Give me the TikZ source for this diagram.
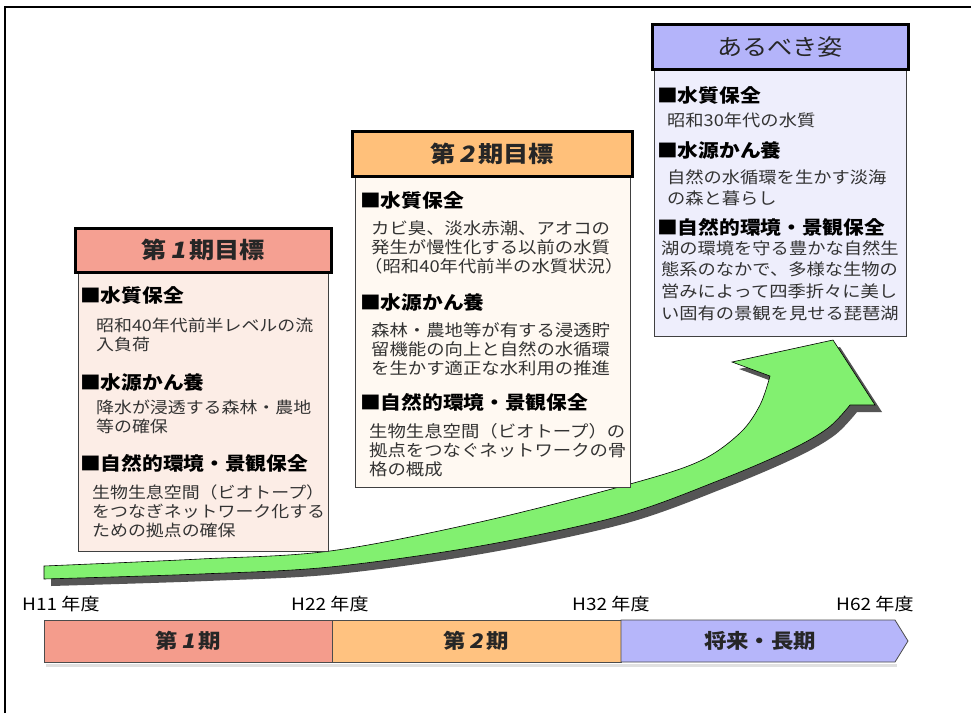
\documentclass[tikz,border=0pt]{standalone}
\usepackage{fontspec}
\newfontfamily\jp[FakeStretch=1.12]{Noto Sans CJK JP}
\definecolor{arrowgreen}{RGB}{130,240,112}
\definecolor{shadowgrey}{RGB}{85,85,85}
\definecolor{salmonA}{RGB}{245,160,146}
\definecolor{salmonB}{RGB}{252,237,230}
\definecolor{orangeA}{RGB}{255,192,122}
\definecolor{orangeB}{RGB}{255,249,242}
\definecolor{violetA}{RGB}{180,180,250}
\definecolor{violetB}{RGB}{238,238,252}
\definecolor{barA}{RGB}{244,156,140}
\definecolor{barB}{RGB}{255,194,128}
\definecolor{barC}{RGB}{182,182,250}
\tikzset{
  titlebox/.style={draw=black, line width=3pt, inner sep=0pt, font=\jp\bfseries\fontsize{22.5}{24}\selectfont, text=black!85},
  contentbox/.style={draw=black!75, line width=1pt, inner sep=0pt},
  hdr/.style={anchor=west, inner sep=0pt, font=\jp\bfseries\fontsize{18.5}{20}\selectfont, text=black},
  body/.style={anchor=west, inner sep=0pt, font=\jp\fontsize{16.0}{18}\selectfont, text=black!80},
  bodyw/.style={body, font=\jp\fontsize{16.4}{18}\selectfont},
  bodym/.style={body, font=\jp\fontsize{16.3}{18}\selectfont},
  yearlbl/.style={anchor=west, inner sep=0pt, font=\jp\fontsize{17}{18}\selectfont, text=black},
  barlbl/.style={inner sep=0pt, font=\jp\bfseries\fontsize{20}{22}\selectfont, text=black!85},
  barline/.style={draw=black!70, line width=0.8pt},
}
\newcommand{\slone}[1]{{\addfontfeature{FakeSlant=0.2}#1}}
\begin{document}
\begin{tikzpicture}[x=1pt,y=-1pt]
\useasboundingbox (0,0) rectangle (971,713);
\fill[white] (0,0) rectangle (971,713);
% frame
\draw[line width=1.3pt] (5,713) -- (5,7) -- (971,7);

% green arrow: shadow then body
\def\arrowpath{
  plot[smooth, tension=0.55] coordinates {(44,566) (200,559) (330,551) (480,522) (630,484) (700,461) (740,433) (760,405) (770,376)}
  -- (732,362) -- (833,340) -- (875,405) -- (850,405)
  -- plot[smooth, tension=0.55] coordinates {(850,405) (828,428) (790,450) (720,480) (620,516) (480,546) (330,567) (200,574) (44,579)}
  -- cycle}
\fill[shadowgrey, shift={(7,7)}] \arrowpath;
\filldraw[fill=arrowgreen, draw=black, line width=0.6pt] \arrowpath;

% box 1
\node[contentbox, fill=salmonB, minimum width=250pt, minimum height=279pt] (c1) at (203,411.5) {};
\node[titlebox, fill=salmonA, minimum width=256pt, minimum height=44pt] (t1) at (203,250) {第\,\slone{1}\,期目標};
\node[hdr] (b1h1) at (80,295) {■水質保全};
\node[body] (b1l1) at (96,325) {昭和40年代前半レベルの流};
\node[body] (b1l2) at (96,344) {入負荷};
\node[hdr] (b1h2) at (80,382) {■水源かん養};
\node[body] (b1l3) at (96,407) {降水が浸透する森林・農地};
\node[body] (b1l4) at (96,426) {等の確保};
\node[hdr] (b1h3) at (80,463) {■自然的環境・景観保全};
\node[body] (b1l5) at (92,492) {生物生息空間（ビオトープ）};
\node[body] (b1l6) at (92,511) {をつなぎネットワーク化する};
\node[body] (b1l7) at (92,530) {ための拠点の確保};

% box 2
\node[contentbox, fill=orangeB, minimum width=275pt, minimum height=311pt] (c2) at (492.5,331.5) {};
\node[titlebox, fill=orangeA, minimum width=280pt, minimum height=45pt] (t2) at (492,153.5) {第\,\slone{2}\,期目標};
\node[hdr] (b2h1) at (360,200) {■水質保全};
\node[bodyw] (b2l1) at (371,228) {カビ臭、淡水赤潮、アオコの};
\node[bodyw] (b2l2) at (371,247) {発生が慢性化する以前の水質};
\node[bodyw] (b2l3) at (364,266) {（昭和40年代前半の水質状況）};
\node[hdr] (b2h2) at (360,302) {■水源かん養};
\node[bodyw] (b2l4) at (371,330) {森林・農地等が有する浸透貯};
\node[bodyw] (b2l5) at (371,349) {留機能の向上と自然の水循環};
\node[bodyw] (b2l6) at (371,368) {を生かす適正な水利用の推進};
\node[hdr] (b2h3) at (360,402) {■自然的環境・景観保全};
\node[bodyw] (b2l7) at (369,431) {生物生息空間（ビオトープ）の};
\node[bodyw] (b2l8) at (369,450) {拠点をつなぐネットワークの骨};
\node[bodyw] (b2l9) at (369,469) {格の概成};

% box 3
\node[contentbox, fill=violetB, minimum width=252pt, minimum height=267pt] (c3) at (780,202.5) {};
\node[titlebox, fill=violetA, minimum width=256pt, minimum height=45pt, font=\jp\fontsize{22.5}{24}\selectfont] (t3) at (780,46.5) {あるべき姿};
\node[hdr] (b3h1) at (657,95) {■水質保全};
\node[bodym] (b3l1) at (667,120) {昭和30年代の水質};
\node[hdr] (b3h2) at (657,150) {■水源かん養};
\node[bodym] (b3l2) at (667,177) {自然の水循環を生かす淡海};
\node[bodym] (b3l3) at (667,198) {の森と暮らし};
\node[hdr] (b3h3) at (657,227) {■自然的環境・景観保全};
\node[bodym] (b3l4) at (661,248) {湖の環境を守る豊かな自然生};
\node[bodym] (b3l5) at (661,269) {態系のなかで、多様な生物の};
\node[bodym] (b3l6) at (661,291) {営みによって四季折々に美し};
\node[bodym] (b3l7) at (661,313) {い固有の景観を見せる琵琶湖};

% year labels
\node[yearlbl] (y1) at (22,604) {H11 年度};
\node[yearlbl] (y2) at (291,604) {H22 年度};
\node[yearlbl] (y3) at (572,604) {H32 年度};
\node[yearlbl] (y4) at (836,604) {H62 年度};

% timeline bar
\fill[black!12] (46,664) rectangle (897,667);
\filldraw[fill=barA, barline] (44,620) rectangle (332,662);
\filldraw[fill=barB, barline] (332,620) rectangle (621,662);
\filldraw[fill=barC, barline] (621,620) -- (895,620) -- (908,641) -- (895,662) -- (621,662) -- cycle;
\node[barlbl] (p1) at (188,641) {第\,\slone{1}\,期};
\node[barlbl] (p2) at (476,641) {第\,\slone{2}\,期};
\node[barlbl] (p3) at (760,641) {将来・長期};
\end{tikzpicture}
\end{document}
